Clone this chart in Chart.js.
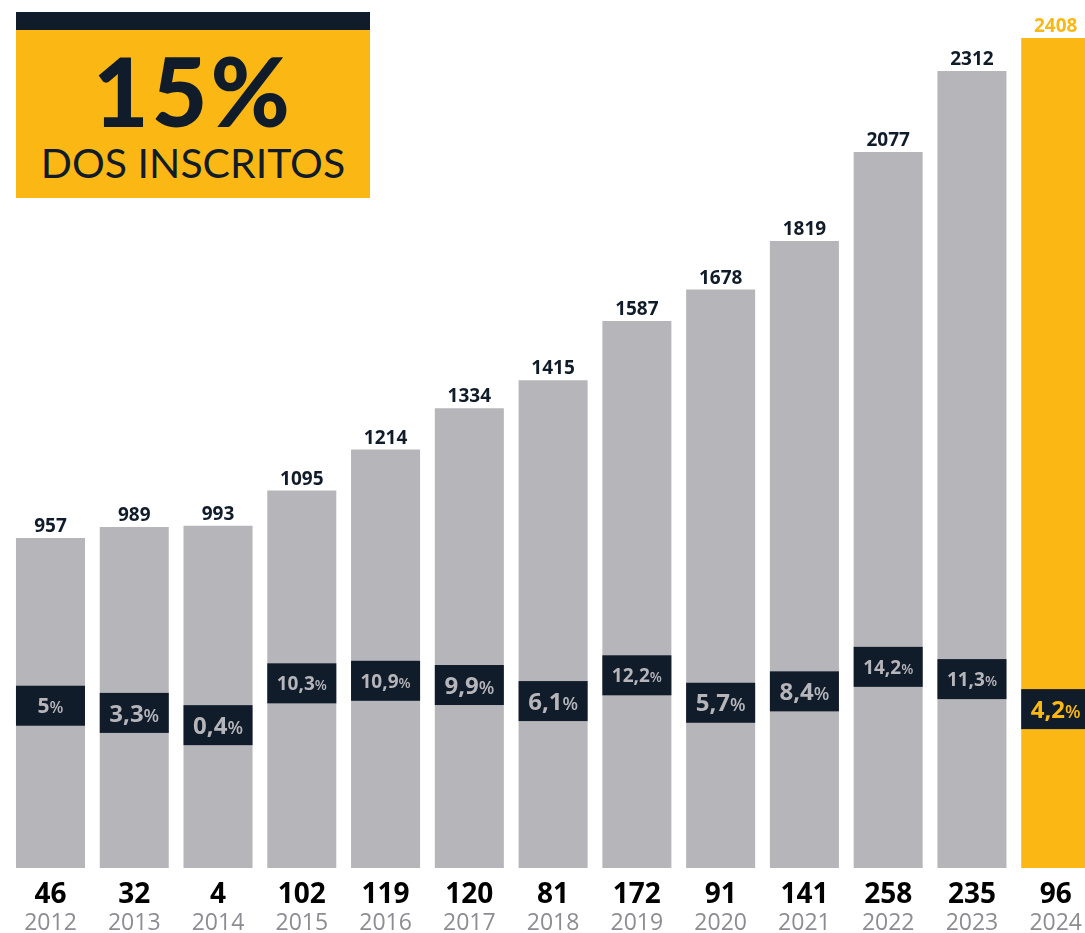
<!DOCTYPE html>
<html>
<head>
<meta charset="utf-8">
<script src="https://cdn.jsdelivr.net/npm/chart.js@4/dist/chart.umd.min.js"></script>
<style>
    body { margin: 0; background: #fff; overflow: hidden; }
    #wrap { position: relative; width: 1100px; height: 933px; }
    #badge {
        position: absolute; left: 16px; top: 12px; width: 354px; height: 186px;
        box-sizing: border-box; border-top: 18px solid #111c2b; background: #fbb814;
        color: #111c2b; font-family: Lato, sans-serif; text-align: center;
    }
    #badge .big { position: absolute; left: 0; right: 0; top: 12px; font-size: 96px; font-weight: 900; line-height: 96px; letter-spacing: 3px; }
    #badge .small { position: absolute; left: 0; right: 0; top: 112px; font-size: 41px; font-weight: 400; line-height: 41px; }
</style>
</head>
<body>
<div id="wrap">
    <canvas id="chart"></canvas>
    <div id="badge"><div class="big">15%</div><div class="small">DOS INSCRITOS</div></div>
</div>
<script>
// --- DATA ---
const years = ['2012', '2013', '2014', '2015', '2016', '2017', '2018', '2019', '2020', '2021', '2022', '2023', '2024'];
const totals = [957, 989, 993, 1095, 1214, 1334, 1415, 1587, 1678, 1819, 2077, 2312, 2408];
const counts = [46, 32, 4, 102, 119, 120, 81, 172, 91, 141, 258, 235, 96];
const shares = [5, 3.3, 0.4, 10.3, 10.9, 9.9, 6.1, 12.2, 5.7, 8.4, 14.2, 11.3, 4.2];

const GREY = '#b6b5ba';
const YELLOW = '#fbb814';
const NAVY = '#111c2b';
const last = years.length - 1;
const barColors = years.map((y, i) => i === last ? YELLOW : GREY);

const fmt = v => String(v).replace('.', ',');

// --- PLUGIN: value labels, share boxes, counts and years ---
const labelsPlugin = {
    id: 'labels',
    afterDatasetsDraw(chart) {
        const ctx = chart.ctx;
        const bars = chart.getDatasetMeta(0).data;
        const pts = chart.getDatasetMeta(1).data;
        const xScale = chart.scales.x;
        ctx.save();
        ctx.textAlign = 'center';
        ctx.textBaseline = 'alphabetic';

        bars.forEach((bar, i) => {
            // total above the bar
            ctx.font = 'bold 19px "Open Sans"';
            ctx.fillStyle = i === last ? YELLOW : NAVY;
            ctx.fillText(totals[i], bar.x, bar.y - 6);

            // share box
            const p = pts[i];
            const w = bar.width;
            ctx.fillStyle = NAVY;
            ctx.fillRect(bar.x - w / 2, p.y - 20, w, 40);

            const num = fmt(shares[i]);
            const nSize = num.length === 3 ? 24 : (num.length === 1 ? 21 : 19);
            const pSize = Math.round(nSize * 0.76);
            ctx.font = `bold ${nSize}px "Open Sans"`;
            const nW = ctx.measureText(num).width;
            ctx.font = `600 ${pSize}px "Open Sans"`;
            const pW = ctx.measureText('%').width;
            const x0 = bar.x - (nW + pW) / 2;
            const base = p.y + nSize * 0.36;
            ctx.textAlign = 'left';
            ctx.fillStyle = i === last ? YELLOW : GREY;
            ctx.font = `bold ${nSize}px "Open Sans"`;
            ctx.fillText(num, x0, base);
            ctx.font = `600 ${pSize}px "Open Sans"`;
            ctx.fillText('%', x0 + nW, base);
            ctx.textAlign = 'center';

            // count and year below the bar
            const cx = xScale.getPixelForValue(i);
            ctx.font = 'bold 28px "Open Sans"';
            ctx.fillStyle = '#000';
            ctx.fillText(counts[i], cx, 903);
            ctx.font = '23px "Open Sans"';
            ctx.fillStyle = '#8d8c92';
            ctx.fillText(years[i], cx, 930);
        });
        ctx.restore();
    }
};

new Chart(document.getElementById('chart'), {
    type: 'bar',
    data: {
        labels: years,
        datasets: [{
            data: totals,
            backgroundColor: barColors,
            borderWidth: 0,
            barPercentage: 0.824,
            categoryPercentage: 1,
            yAxisID: 'y'
        }, {
            type: 'line',
            data: shares,
            showLine: false,
            pointRadius: 0,
            yAxisID: 'y1'
        }]
    },
    options: {
        responsive: true,
        maintainAspectRatio: false,
        animation: false,
        layout: { padding: { left: 8.6, right: 2.4, top: 0, bottom: 65 } },
        plugins: { legend: { display: false }, tooltip: { enabled: false } },
        scales: {
            x: { display: false },
            y: { display: false, min: 0, max: 2518 },
            y1: { display: false, min: -33.4, max: 172 }
        }
    },
    plugins: [labelsPlugin]
});
</script>
</body>
</html>
